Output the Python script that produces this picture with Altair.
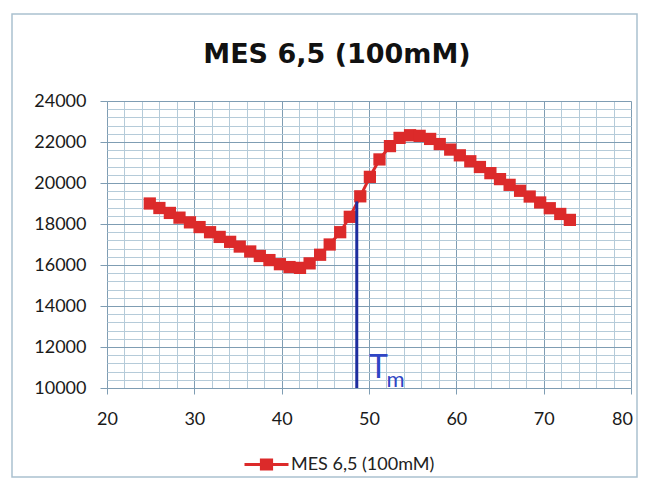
import altair as alt
import pandas as pd

series_name = "MES 6,5 (100mM)"
temperature = [24.9, 26.0, 27.2, 28.3, 29.5, 30.6, 31.8, 32.9, 34.1, 35.2,
               36.4, 37.5, 38.6, 39.8, 40.9, 42.1, 43.2, 44.4, 45.5, 46.7,
               47.8, 49.0, 50.1, 51.2, 52.4, 53.5, 54.7, 55.8, 57.0, 58.1,
               59.3, 60.4, 61.6, 62.7, 63.9, 65.0, 66.1, 67.3, 68.4, 69.6,
               70.7, 71.9, 73.0]
fluorescence = [19000, 18780, 18540, 18310, 18080, 17850, 17600, 17370, 17130, 16900,
                16660, 16440, 16240, 16040, 15900, 15860, 16080, 16500, 17000, 17600,
                18350, 19350, 20300, 21150, 21800, 22200, 22330, 22300, 22150, 21900,
                21630, 21350, 21060, 20780, 20480, 20190, 19910, 19620, 19340, 19050,
                18770, 18490, 18200]
tm_x = [48.6]
tm_bottom = [10000]
tm_top = [19100]
tm_label_x = [50.0, 52.0]
tm_label_y = [10490, 10050]
tm_label_text = ["T", "m"]
tm_label_size = [32, 22]
x_ticks = list(range(20, 81, 2))
y_ticks = list(range(10000, 24001, 400))

RED = "#dc2a2a"
MAJOR = "#7f9db3"
MINOR = "#b5cbd9"

df = pd.DataFrame({"T": temperature, "F": fluorescence, "series": series_name})
tm_df = pd.DataFrame({"x": tm_x, "y": tm_bottom, "y2": tm_top})
lab_df = pd.DataFrame({"x": tm_label_x, "y": tm_label_y, "t": tm_label_text, "s": tm_label_size})

x_scale = alt.Scale(domain=[20, 80], nice=False, zero=False)
y_scale = alt.Scale(domain=[10000, 24000], nice=False, zero=False)

x_axis = alt.Axis(
    values=x_ticks, title=None, domain=False, grid=True,
    gridColor=alt.condition("datum.value % 10 === 0", alt.value(MAJOR), alt.value(MINOR)),
    gridWidth=1,
    tickColor=MAJOR, tickSize=6,
    tickOpacity=alt.condition("datum.value % 10 === 0", alt.value(1), alt.value(0)),
    labelExpr="datum.value % 10 === 0 ? datum.label : ''",
    labelOffset=alt.condition("datum.value === 80", alt.value(-9), alt.value(0)),
    labelOverlap=False, labelFlush=False, labelFont="Lato", labelFontSize=18,
    labelColor="#1a1a1a", labelPadding=16,
)
y_axis = alt.Axis(
    values=y_ticks, title=None, domain=False, grid=True, format="d",
    gridColor=alt.condition("datum.value % 2000 === 0", alt.value(MAJOR), alt.value(MINOR)),
    gridWidth=1,
    tickColor=MAJOR, tickSize=7,
    tickOpacity=alt.condition("datum.value % 2000 === 0", alt.value(1), alt.value(0)),
    labelExpr="datum.value % 2000 === 0 ? datum.label : ''",
    labelOverlap=False, labelFlush=False, labelFont="Lato", labelFontSize=18,
    labelColor="#1a1a1a", labelPadding=14,
)

legend_symbol = ("M-1,0H1"
                 "M-0.3,-0.2H0.3M-0.3,-0.1H0.3M-0.3,0H0.3"
                 "M-0.3,0.1H0.3M-0.3,0.2H0.3")

border = alt.Chart(pd.DataFrame({"a": [0]})).mark_rect(
    fillOpacity=0, stroke="#aac1d0", strokeWidth=1.5
).encode(x=alt.value(-95), x2=alt.value(530), y=alt.value(-87), y2=alt.value(376))

base = alt.Chart(df).encode(
    x=alt.X("T:Q", scale=x_scale, axis=x_axis),
    y=alt.Y("F:Q", scale=y_scale, axis=y_axis),
)

line = base.mark_line(strokeWidth=3).encode(
    color=alt.Color("series:N", scale=alt.Scale(domain=[series_name], range=[RED]),
                    legend=alt.Legend(
                        title=None, orient="none", legendX=136, legendY=340,
                        symbolType=legend_symbol, symbolSize=1936,
                        symbolStrokeWidth=3, symbolStrokeColor=RED,
                        labelFont="Lato", labelFontSize=18, labelColor="#222222",
                        labelOffset=1, padding=0)),
)
points = base.mark_square(size=150, color=RED, opacity=1, filled=True)

tm_line = alt.Chart(tm_df).mark_rule(color="#1e2d9e", strokeWidth=3).encode(
    x=alt.X("x:Q", scale=x_scale, axis=x_axis),
    y=alt.Y("y:Q", scale=y_scale, axis=y_axis),
    y2="y2:Q",
)
tm_text = alt.Chart(lab_df).mark_text(
    align="left", baseline="alphabetic", font="Lato", color="#2f45c4"
).encode(
    x=alt.X("x:Q", scale=x_scale, axis=x_axis),
    y=alt.Y("y:Q", scale=y_scale, axis=y_axis),
    text="t:N", size=alt.Size("s:Q", scale=None, legend=None),
)

chart = alt.layer(border, line, points, tm_line, tm_text).properties(
    width=524, height=287,
    autosize=alt.AutoSizeParams(type="none"),
    padding={"left": 99, "top": 93, "right": 15, "bottom": 92},
    title=alt.TitleParams(text="MES 6,5 (100mM)", font="DejaVu Sans", fontSize=27,
                          fontWeight="bold", color="#111111", anchor="middle",
                          dx=-32, offset=-77, baseline="alphabetic"),
).configure_view(stroke=None).configure(background="white")

chart.save("out.html", embed_options={"renderer": "svg", "actions": False})
